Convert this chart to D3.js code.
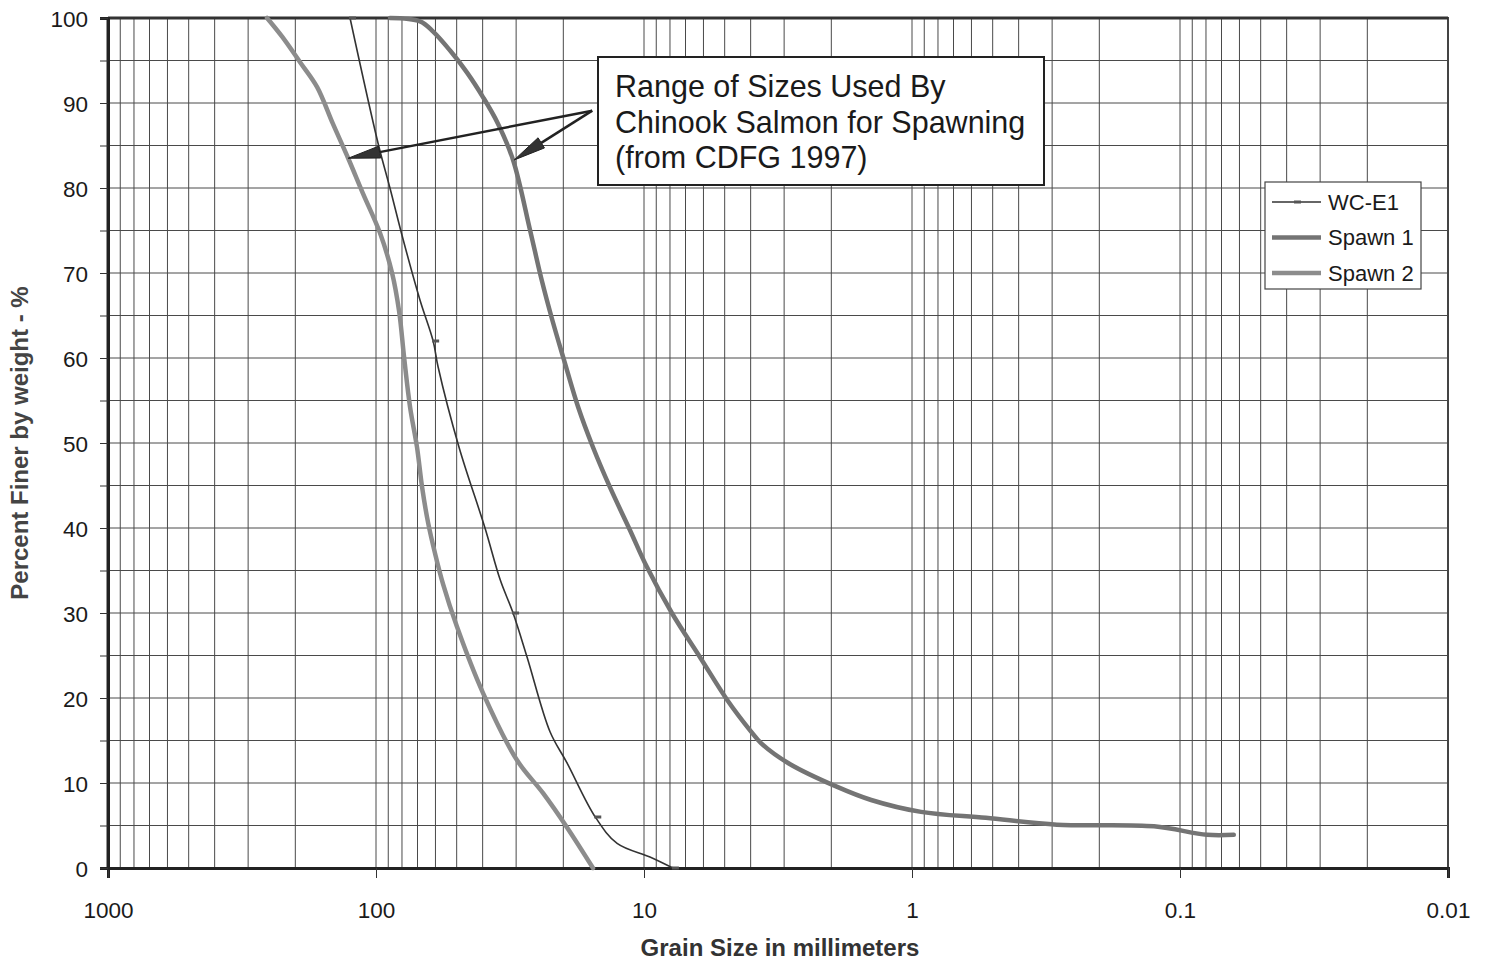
<!DOCTYPE html>
<html>
<head>
<meta charset="utf-8">
<script src="https://cdn.jsdelivr.net/npm/d3@7/dist/d3.min.js"></script>
<style>
  html, body { margin: 0; padding: 0; background: #fff; }
  svg { display: block; font-family: "Liberation Sans", Arial, sans-serif; }
</style>
</head>
<body>
<svg id="chart" width="1489" height="967"></svg>
<script>
// ---------------- data ----------------
const xTickValues = [1000, 100, 10, 1, 0.1, 0.01];
const xTickLabels = ["1000", "100", "10", "1", "0.1", "0.01"];
const yTickValues = [0, 5, 10, 15, 20, 25, 30, 35, 40, 45, 50, 55, 60, 65, 70, 75, 80, 85, 90, 95, 100];
const yTickLabels = ["0", "", "10", "", "20", "", "30", "", "40", "", "50", "", "60", "", "70", "", "80", "", "90", "", "100"];

const seriesNames = ["WC-E1", "Spawn 1", "Spawn 2"];

// [grain size mm, percent finer]
const wcE1 = [[125,100],[98.3,85.3],[88.7,80],[79.3,74],[68.5,66.8],[61.2,62],[58.7,59],[49.0,49.5],
  [39.2,40],[34.4,33.9],[30.8,30],[27.3,24.8],[22.4,16],[19.4,12.4],[15.2,6],[12.6,2.9],[9.5,1.3],[7.8,0]];
const wcE1Samples = [[125,100],[61.2,62],[30.8,30],[15.2,6],[7.8,0]];

const spawn1 = [[88.7,100],[68.5,99.6],[61.2,98.4],[53.0,96.2],[45.8,93.6],[39.9,90.7],[35.1,87.6],
  [30.8,83.3],[26.6,75],[24.1,69.2],[22.0,64.5],[19.9,59.8],[17.6,54.2],[15.5,49.5],[13.4,44.8],
  [11.3,39.8],[9.75,35.4],[7.87,30],[6.18,24.8],[4.90,19.8],[4.02,16.2],[3.66,14.7],[2.88,12.3],
  [1.92,9.6],[1.42,8.0],[0.925,6.6],[0.53,5.9],[0.288,5.1],[0.125,4.9],[0.0793,3.9],[0.063,3.9]];

const spawn2 = [[255,100],[224,97.8],[192,94.8],[166,91.9],[145,87.6],[127,83.5],[112,79.4],[96.6,74.7],
  [87.1,70],[82,65.5],[78.5,60],[74.6,54.2],[70.3,49.5],[67.3,44.8],[63.9,40.6],[60.2,37],[56.2,33.4],
  [49.9,28.4],[39.9,20.6],[29.8,12.7],[23.8,8.8],[19.4,4.8],[15.5,0]];

const annotationLines = ["Range of Sizes Used By", "Chinook Salmon for Spawning", "(from CDFG 1997)"];
const arrowTips = [[127,83.5],[30.5,83.3]];   // points on Spawn 2 and Spawn 1
const arrowOrigin = [15.6, 89.1];

// ---------------- layout ----------------
const svg = d3.select("#chart");
const L = 108, R = 1448, T = 18, B = 868;

const x = d3.scaleLog().domain([1000, 0.01]).range([L, R]);
const y = d3.scaleLinear().domain([0, 100]).range([B, T]);

const gridColor = "#4a4a4a";

// vertical grid: all log subdivisions
const vGrid = [];
for (let e = -2; e < 3; e++) for (let k = 1; k <= 9; k++) vGrid.push(k * Math.pow(10, e));
vGrid.push(1000);

svg.append("g").selectAll("line").data(vGrid).join("line")
  .attr("x1", d => x(d)).attr("x2", d => x(d))
  .attr("y1", T).attr("y2", B)
  .attr("stroke", gridColor).attr("stroke-width", 1);

svg.append("g").selectAll("line").data(yTickValues).join("line")
  .attr("x1", L).attr("x2", R)
  .attr("y1", d => y(d)).attr("y2", d => y(d))
  .attr("stroke", gridColor).attr("stroke-width", 1);

// frame
svg.append("rect").attr("x", L).attr("y", T).attr("width", R - L).attr("height", B - T)
  .attr("fill", "none").attr("stroke", "#444").attr("stroke-width", 2);
svg.append("line").attr("x1", L).attr("x2", R).attr("y1", T).attr("y2", T)
  .attr("stroke", "#333").attr("stroke-width", 3);
svg.append("line").attr("x1", L).attr("x2", L).attr("y1", T).attr("y2", B)
  .attr("stroke", "#2a2a2a").attr("stroke-width", 3);

// axes
const xAxis = svg.append("g").attr("transform", `translate(0,${B})`)
  .call(d3.axisBottom(x).tickValues(xTickValues).tickSize(10).tickPadding(24)
    .tickFormat((d, i) => xTickLabels[i]));
const yAxis = svg.append("g").attr("transform", `translate(${L},0)`)
  .call(d3.axisLeft(y).tickValues(yTickValues).tickSize(8).tickPadding(12)
    .tickFormat((d, i) => yTickLabels[i]));
[xAxis, yAxis].forEach(g => {
  g.select(".domain").attr("stroke", "#222").attr("stroke-width", 3);
  g.selectAll(".tick line").attr("stroke", "#333").attr("stroke-width", 1);
  g.selectAll(".tick text").attr("fill", "#1a1a1a").style("font-size", "22.5px")
    .style("font-family", '"Liberation Sans", Arial, sans-serif');
});
yAxis.selectAll(".tick text").attr("dy", "0.36em");

// curves
const line = d3.line().x(d => x(d[0])).y(d => y(d[1])).curve(d3.curveCatmullRom.alpha(0.5));

svg.append("path").datum(spawn2).attr("d", line)
  .attr("fill", "none").attr("stroke", "#8c8c8c").attr("stroke-width", 4.5)
  .attr("stroke-linecap", "round");
svg.append("path").datum(spawn1).attr("d", line)
  .attr("fill", "none").attr("stroke", "#747474").attr("stroke-width", 4.5)
  .attr("stroke-linecap", "round");
svg.append("path").datum(wcE1).attr("d", line)
  .attr("fill", "none").attr("stroke", "#333").attr("stroke-width", 1.6);
svg.append("g").selectAll("rect").data(wcE1Samples).join("rect")
  .attr("x", d => x(d[0]) - 1).attr("y", d => y(d[1]) - 1.5)
  .attr("width", 7).attr("height", 3).attr("fill", "#555");

// annotation box
const boxX = 598, boxY = 57, boxW = 446, boxH = 128;
svg.append("rect").attr("x", boxX).attr("y", boxY).attr("width", boxW).attr("height", boxH)
  .attr("fill", "#fff").attr("stroke", "#222").attr("stroke-width", 2);
svg.append("g").selectAll("text").data(annotationLines).join("text")
  .attr("x", boxX + 17).attr("y", (d, i) => boxY + 40 + i * 35.5)
  .attr("fill", "#1a1a1a").style("font-size", "30.5px").text(d => d);

// arrows
const ox = x(arrowOrigin[0]), oy = y(arrowOrigin[1]);
arrowTips.forEach(t => {
  const tx = x(t[0]), ty = y(t[1]);
  const ang = Math.atan2(ty - oy, tx - ox);
  const hl = 32, hw = 6;
  const bx = tx - hl * Math.cos(ang), by = ty - hl * Math.sin(ang);
  svg.append("line").attr("x1", ox).attr("y1", oy).attr("x2", bx).attr("y2", by)
    .attr("stroke", "#222").attr("stroke-width", 2.5);
  const px = -Math.sin(ang) * hw, py = Math.cos(ang) * hw;
  svg.append("path")
    .attr("d", `M${tx},${ty}L${bx + px},${by + py}L${bx - px},${by - py}Z`)
    .attr("fill", "#333").attr("stroke", "#222").attr("stroke-width", 1);
});

// legend
const lgX = 1265, lgY = 182, lgW = 156, lgH = 107;
svg.append("rect").attr("x", lgX).attr("y", lgY).attr("width", lgW).attr("height", lgH)
  .attr("fill", "#fff").attr("stroke", "#444").attr("stroke-width", 1.2);
const legendStyles = [
  { stroke: "#333", width: 1.6, marker: true },
  { stroke: "#747474", width: 4.5, marker: false },
  { stroke: "#8c8c8c", width: 4.5, marker: false }
];
const lg = svg.append("g").selectAll("g").data(seriesNames).join("g")
  .attr("transform", (d, i) => `translate(${lgX},${lgY + 20 + i * 35.5})`);
lg.append("line").attr("x1", 7).attr("x2", 56).attr("y1", 0).attr("y2", 0)
  .attr("stroke", (d, i) => legendStyles[i].stroke)
  .attr("stroke-width", (d, i) => legendStyles[i].width);
lg.filter((d, i) => legendStyles[i].marker).append("rect")
  .attr("x", 29).attr("y", -1.5).attr("width", 7).attr("height", 3).attr("fill", "#555");
lg.append("text").attr("x", 63).attr("y", 0).attr("dy", "0.36em")
  .attr("fill", "#1a1a1a").style("font-size", "22px").text(d => d);

// axis titles
svg.append("text").attr("x", 780).attr("y", 956).attr("text-anchor", "middle")
  .attr("fill", "#333").style("font-size", "24px").style("font-weight", "bold")
  .text("Grain Size in millimeters");
svg.append("text").attr("transform", "translate(28,443) rotate(-90)").attr("text-anchor", "middle")
  .attr("fill", "#444").style("font-size", "24px").style("font-weight", "bold")
  .text("Percent Finer by weight - %");
</script>
</body>
</html>
